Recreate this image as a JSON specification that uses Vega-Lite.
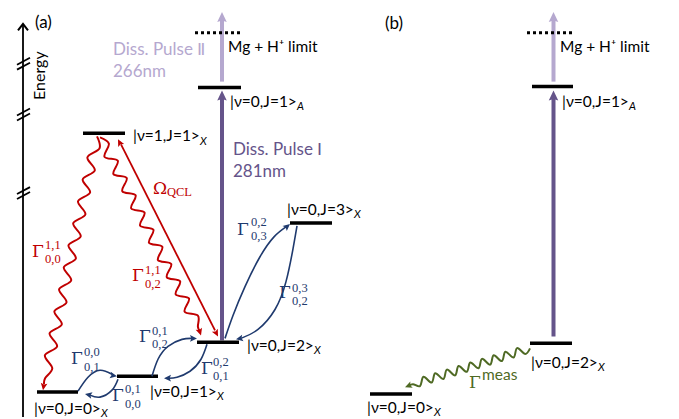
{
"$schema": "https://vega.github.io/schema/vega-lite/v6.json",
"width": 679, "height": 419,
"autosize": {"type": "fit", "contains": "padding"},
"padding": 0,
"background": "white",
"config": {"view": {"stroke": null}},
"datasets": {
"levels": [
{"x":83,"x2":125,"y":134},{"x":198,"x2":241,"y":88},{"x":290,"x2":332,"y":224},{"x":197,"x2":239,"y":344},{"x":117,"x2":158,"y":378},{"x":37,"x2":78,"y":394},
{"x":532,"x2":573,"y":87},{"x":530,"x2":572,"y":345},{"x":370,"x2":412,"y":396}
],
"dotted": [{"x":195,"x2":243,"y":33},{"x":527,"x2":575,"y":33}],
"segs": [
{"x":23,"y":419,"x2":23,"y2":25,"c":"k"},
{"x":17,"y":65,"x2":30,"y2":58,"c":"k"},{"x":17,"y":70,"x2":30,"y2":63,"c":"k"},
{"x":17,"y":116,"x2":30,"y2":109,"c":"k"},{"x":17,"y":121,"x2":30,"y2":114,"c":"k"},
{"x":17,"y":195,"x2":30,"y2":188,"c":"k"},{"x":17,"y":200,"x2":30,"y2":193,"c":"k"},
{"x":121,"y":145,"x2":215,"y2":332,"c":"r"}
],
"beams": [
{"x":222,"y":82,"y2":19,"c":"p2"},{"x":222,"y":342,"y2":98,"c":"p1"},
{"x":553.5,"y":82,"y2":19,"c":"p2"},{"x":553.5,"y":338,"y2":98,"c":"p1"}
],
"bigheads": [
{"x":222,"y":12,"a":0,"c":"p2"},{"x":222,"y":91,"a":0,"c":"p1"},
{"x":553.5,"y":12,"a":0,"c":"p2"},{"x":553.5,"y":91,"a":0,"c":"p1"}
],
"heads": [
{"x":118,"y":140,"a":333,"c":"r"},{"x":218,"y":338,"a":153,"c":"r"},
{"x":43,"y":392,"a":189,"c":"r"},{"x":201,"y":337,"a":162,"c":"r"},
{"x":117,"y":378,"a":100,"c":"b"},{"x":85,"y":396,"a":282,"c":"b"},
{"x":197,"y":340,"a":90,"c":"b"},{"x":164,"y":380,"a":270,"c":"b"},
{"x":290,"y":225,"a":50,"c":"b"},{"x":236,"y":341,"a":258,"c":"b"},
{"x":405,"y":389,"a":249,"c":"g"}
],
"axhead": [{"x":23,"y":24}],
"waves": [
{"id":"w1","i":0,"x":97,"y":137,"c":"r"},{"id":"w1","i":1,"x":99.5,"y":149.1,"c":"r"},{"id":"w1","i":2,"x":87.4,"y":158.1,"c":"r"},{"id":"w1","i":3,"x":94.8,"y":171.2,"c":"r"},{"id":"w1","i":4,"x":82.7,"y":180.2,"c":"r"},{"id":"w1","i":5,"x":90.1,"y":193.3,"c":"r"},{"id":"w1","i":6,"x":78.0,"y":202.3,"c":"r"},{"id":"w1","i":7,"x":85.4,"y":215.4,"c":"r"},{"id":"w1","i":8,"x":73.2,"y":224.4,"c":"r"},{"id":"w1","i":9,"x":80.7,"y":237.5,"c":"r"},{"id":"w1","i":10,"x":68.5,"y":246.5,"c":"r"},{"id":"w1","i":11,"x":75.9,"y":259.6,"c":"r"},{"id":"w1","i":12,"x":63.8,"y":268.6,"c":"r"},{"id":"w1","i":13,"x":71.2,"y":281.7,"c":"r"},{"id":"w1","i":14,"x":59.1,"y":290.7,"c":"r"},{"id":"w1","i":15,"x":66.5,"y":303.8,"c":"r"},{"id":"w1","i":16,"x":54.4,"y":312.8,"c":"r"},{"id":"w1","i":17,"x":61.8,"y":325.9,"c":"r"},{"id":"w1","i":18,"x":49.6,"y":334.9,"c":"r"},{"id":"w1","i":19,"x":57.1,"y":348.0,"c":"r"},{"id":"w1","i":20,"x":44.9,"y":357.0,"c":"r"},{"id":"w1","i":21,"x":52.3,"y":370.1,"c":"r"},{"id":"w1","i":22,"x":45.1,"y":380.1,"c":"r"},{"id":"w1","i":23,"x":44,"y":386,"c":"r"},
{"id":"w2","i":0,"x":100,"y":138,"c":"r"},{"id":"w2","i":1,"x":108.9,"y":144.4,"c":"r"},{"id":"w2","i":2,"x":104.5,"y":157.6,"c":"r"},{"id":"w2","i":3,"x":117.8,"y":161.6,"c":"r"},{"id":"w2","i":4,"x":113.4,"y":174.9,"c":"r"},{"id":"w2","i":5,"x":126.7,"y":178.9,"c":"r"},{"id":"w2","i":6,"x":122.3,"y":192.1,"c":"r"},{"id":"w2","i":7,"x":135.6,"y":196.2,"c":"r"},{"id":"w2","i":8,"x":131.2,"y":209.4,"c":"r"},{"id":"w2","i":9,"x":144.5,"y":213.5,"c":"r"},{"id":"w2","i":10,"x":140.1,"y":226.7,"c":"r"},{"id":"w2","i":11,"x":153.4,"y":230.8,"c":"r"},{"id":"w2","i":12,"x":149.0,"y":244.0,"c":"r"},{"id":"w2","i":13,"x":162.3,"y":248.0,"c":"r"},{"id":"w2","i":14,"x":157.9,"y":261.3,"c":"r"},{"id":"w2","i":15,"x":171.2,"y":265.3,"c":"r"},{"id":"w2","i":16,"x":166.8,"y":278.5,"c":"r"},{"id":"w2","i":17,"x":180.1,"y":282.6,"c":"r"},{"id":"w2","i":18,"x":175.7,"y":295.8,"c":"r"},{"id":"w2","i":19,"x":189.0,"y":299.9,"c":"r"},{"id":"w2","i":20,"x":184.6,"y":313.1,"c":"r"},{"id":"w2","i":21,"x":197.9,"y":317.2,"c":"r"},{"id":"w2","i":22,"x":197.9,"y":328.1,"c":"r"},{"id":"w2","i":23,"x":199.5,"y":332,"c":"r"},
{"id":"w3","i":0,"x":530,"y":350,"c":"g"},{"id":"w3","i":1,"x":525.3,"y":355.6,"c":"g"},{"id":"w3","i":2,"x":517.1,"y":349.8,"c":"g"},{"id":"w3","i":3,"x":513.6,"y":359.2,"c":"g"},{"id":"w3","i":4,"x":505.4,"y":353.4,"c":"g"},{"id":"w3","i":5,"x":501.9,"y":362.8,"c":"g"},{"id":"w3","i":6,"x":493.7,"y":357.0,"c":"g"},{"id":"w3","i":7,"x":490.2,"y":366.4,"c":"g"},{"id":"w3","i":8,"x":482.0,"y":360.6,"c":"g"},{"id":"w3","i":9,"x":478.5,"y":370.0,"c":"g"},{"id":"w3","i":10,"x":470.3,"y":364.2,"c":"g"},{"id":"w3","i":11,"x":466.8,"y":373.6,"c":"g"},{"id":"w3","i":12,"x":458.6,"y":367.8,"c":"g"},{"id":"w3","i":13,"x":455.1,"y":377.2,"c":"g"},{"id":"w3","i":14,"x":446.9,"y":371.4,"c":"g"},{"id":"w3","i":15,"x":443.4,"y":380.8,"c":"g"},{"id":"w3","i":16,"x":435.2,"y":375.0,"c":"g"},{"id":"w3","i":17,"x":431.7,"y":384.4,"c":"g"},{"id":"w3","i":18,"x":423.5,"y":378.6,"c":"g"},{"id":"w3","i":19,"x":420.0,"y":388.0,"c":"g"},{"id":"w3","i":20,"x":413,"y":386,"c":"g"},{"id":"w3","i":21,"x":409,"y":387.5,"c":"g"}
],
"arcs": [
{"id":"a1","i":0,"x":78,"y":393},{"id":"a1","i":1,"x":88,"y":379},{"id":"a1","i":2,"x":100,"y":372},{"id":"a1","i":3,"x":112,"y":376},
{"id":"a2","i":0,"x":118,"y":381},{"id":"a2","i":1,"x":112,"y":392},{"id":"a2","i":2,"x":100,"y":399},{"id":"a2","i":3,"x":90,"y":397},
{"id":"a3","i":0,"x":152,"y":378},{"id":"a3","i":1,"x":158,"y":361},{"id":"a3","i":2,"x":168,"y":348},{"id":"a3","i":3,"x":182,"y":341},{"id":"a3","i":4,"x":192,"y":340},
{"id":"a4","i":0,"x":207,"y":346},{"id":"a4","i":1,"x":201,"y":361},{"id":"a4","i":2,"x":190,"y":373},{"id":"a4","i":3,"x":177,"y":379},{"id":"a4","i":4,"x":169,"y":380},
{"id":"a5","i":0,"x":225,"y":340},{"id":"a5","i":1,"x":233,"y":317},{"id":"a5","i":2,"x":245,"y":288},{"id":"a5","i":3,"x":260,"y":258},{"id":"a5","i":4,"x":274,"y":238},{"id":"a5","i":5,"x":286,"y":228},
{"id":"a6","i":0,"x":297,"y":227},{"id":"a6","i":1,"x":293,"y":250},{"id":"a6","i":2,"x":286,"y":283},{"id":"a6","i":3,"x":275,"y":311},{"id":"a6","i":4,"x":258,"y":331},{"id":"a6","i":5,"x":241,"y":340}
],
"sans": [
{"t":"|ν=1,J=1>","x":133,"y":137,"c":"k"},
{"t":"|ν=0,J=1>","x":230,"y":102,"c":"k"},
{"t":"|ν=0,J=1>","x":562,"y":102,"c":"k"},
{"t":"|ν=0,J=3>","x":287,"y":211,"c":"k"},
{"t":"|ν=0,J=2>","x":247,"y":348,"c":"k"},
{"t":"|ν=0,J=1>","x":150,"y":394,"c":"k"},
{"t":"|ν=0,J=0>","x":34,"y":411,"c":"k"},
{"t":"|ν=0,J=2>","x":531,"y":365,"c":"k"},
{"t":"|ν=0,J=0>","x":367,"y":410,"c":"k"},
{"t":"Mg + H⁺ limit","x":228,"y":47,"c":"k"},
{"t":"Mg + H⁺ limit","x":560,"y":47,"c":"k"},
{"t":"meas","x":482,"y":377,"c":"g"}
],
"subs": [
{"t":"X","x":200,"y":143},{"t":"A","x":297,"y":108},{"t":"A","x":629,"y":108},
{"t":"X","x":354,"y":216},{"t":"X","x":314,"y":353},{"t":"X","x":217,"y":399},
{"t":"X","x":101,"y":416},{"t":"X","x":598,"y":370},{"t":"X","x":434,"y":415}
],
"big": [
{"t":"Diss. Pulse Ⅱ","x":113,"y":50,"c":"p2"},{"t":"266nm","x":113,"y":72,"c":"p2"},
{"t":"Diss. Pulse Ⅰ","x":233,"y":151,"c":"p1"},{"t":"281nm","x":233,"y":173,"c":"p1"},
{"t":"(a)","x":35,"y":23,"c":"k"},{"t":"(b)","x":385,"y":24,"c":"k"}
],
"greek": [
{"t":"Γ","x":71,"y":361,"c":"b"},{"t":"Γ","x":112,"y":398,"c":"b"},{"t":"Γ","x":139,"y":339,"c":"b"},
{"t":"Γ","x":201,"y":371,"c":"b"},{"t":"Γ","x":237,"y":231,"c":"b"},{"t":"Γ","x":279,"y":294,"c":"b"},
{"t":"Γ","x":32,"y":253,"c":"r"},{"t":"Γ","x":132,"y":277,"c":"r"},{"t":"Ω","x":153,"y":190,"c":"r"},
{"t":"Γ","x":469,"y":385,"c":"g"}
],
"idx": [
{"t":"0,0","x":84,"y":354,"c":"b"},{"t":"0,1","x":84,"y":369,"c":"b"},
{"t":"0,1","x":125,"y":391,"c":"b"},{"t":"0,0","x":125,"y":406,"c":"b"},
{"t":"0,1","x":152,"y":333,"c":"b"},{"t":"0,2","x":152,"y":346,"c":"b"},
{"t":"0,2","x":213,"y":364,"c":"b"},{"t":"0,1","x":213,"y":378,"c":"b"},
{"t":"0,2","x":251,"y":223,"c":"b"},{"t":"0,3","x":251,"y":237,"c":"b"},
{"t":"0,3","x":292,"y":289,"c":"b"},{"t":"0,2","x":292,"y":302,"c":"b"},
{"t":"1,1","x":45,"y":246,"c":"r"},{"t":"0,0","x":45,"y":260,"c":"r"},
{"t":"1,1","x":145,"y":271,"c":"r"},{"t":"0,2","x":145,"y":285,"c":"r"},
{"t":"QCL","x":167,"y":193,"c":"r"}
],
"energy": [{"t":"Energy","x":40,"y":76}]
},
"encoding": {
"x": {"field":"x","type":"quantitative","scale":{"domain":[0,679],"nice":false,"zero":false},"axis":null},
"y": {"field":"y","type":"quantitative","scale":{"domain":[0,419],"nice":false,"zero":false,"reverse":true},"axis":null}
},
"layer": [
{"data":{"name":"segs"},"mark":{"type":"rule","strokeWidth":1.8},
 "encoding":{"x2":{"field":"x2"},"y2":{"field":"y2"},
  "color":{"field":"c","type":"nominal","scale":{"domain":["k","p1","p2","r","b","g"],"range":["#000000","#65548a","#b5a8cf","#c00000","#1f3a6e","#4f6a24"]},"legend":null}}},
{"data":{"name":"axhead"},"mark":{"type":"point","shape":"M-1,1.3L0,0L1,1.3","filled":false,"stroke":"black","strokeWidth":2,"size":100,"opacity":1}},
{"data":{"name":"beams"},"mark":{"type":"rule","strokeWidth":4},
 "encoding":{"y2":{"field":"y2"},
  "color":{"field":"c","type":"nominal","scale":{"domain":["k","p1","p2","r","b","g"],"range":["#000000","#65548a","#b5a8cf","#c00000","#1f3a6e","#4f6a24"]},"legend":null}}},
{"data":{"name":"levels"},"mark":{"type":"rule","strokeWidth":3.5,"color":"black"},
 "encoding":{"x2":{"field":"x2"}}},
{"data":{"name":"dotted"},"mark":{"type":"rule","strokeWidth":3,"color":"black","strokeDash":[3,3]},
 "encoding":{"x2":{"field":"x2"}}},
{"data":{"name":"waves"},"mark":{"type":"line","strokeWidth":2,"interpolate":"cardinal"},
 "encoding":{"detail":{"field":"id"},"order":{"field":"i","type":"quantitative"},
  "color":{"field":"c","type":"nominal","scale":{"domain":["k","p1","p2","r","b","g"],"range":["#000000","#65548a","#b5a8cf","#c00000","#1f3a6e","#4f6a24"]},"legend":null}}},
{"data":{"name":"arcs"},"mark":{"type":"line","strokeWidth":1.6,"interpolate":"natural","color":"#1f3a6e"},
 "encoding":{"detail":{"field":"id"},"order":{"field":"i","type":"quantitative"}}},
{"data":{"name":"bigheads"},"mark":{"type":"point","shape":"M0,0L-0.95,2L0,1.7L0.95,2Z","filled":true,"size":100,"opacity":1},
 "encoding":{"angle":{"field":"a","type":"quantitative","scale":null},
  "color":{"field":"c","type":"nominal","scale":{"domain":["k","p1","p2","r","b","g"],"range":["#000000","#65548a","#b5a8cf","#c00000","#1f3a6e","#4f6a24"]},"legend":null}}},
{"data":{"name":"heads"},"mark":{"type":"point","shape":"M0,0L-0.95,2L0,1.6L0.95,2Z","filled":true,"size":49,"opacity":1},
 "encoding":{"angle":{"field":"a","type":"quantitative","scale":null},
  "color":{"field":"c","type":"nominal","scale":{"domain":["k","p1","p2","r","b","g"],"range":["#000000","#65548a","#b5a8cf","#c00000","#1f3a6e","#4f6a24"]},"legend":null}}},
{"data":{"name":"sans"},"mark":{"type":"text","align":"left","baseline":"middle","font":"Lato","fontSize":15.5},
 "encoding":{"text":{"field":"t"},
  "color":{"field":"c","type":"nominal","scale":{"domain":["k","p1","p2","r","b","g"],"range":["#000000","#65548a","#b5a8cf","#c00000","#1f3a6e","#4f6a24"]},"legend":null}}},
{"data":{"name":"subs"},"mark":{"type":"text","align":"left","baseline":"middle","font":"Lato","fontSize":11,"fontStyle":"italic","color":"black"},
 "encoding":{"text":{"field":"t"}}},
{"data":{"name":"big"},"mark":{"type":"text","align":"left","baseline":"middle","font":"Lato","fontSize":17},
 "encoding":{"text":{"field":"t"},
  "color":{"field":"c","type":"nominal","scale":{"domain":["k","p1","p2","r","b","g"],"range":["#000000","#65548a","#b5a8cf","#c00000","#1f3a6e","#4f6a24"]},"legend":null}}},
{"data":{"name":"greek"},"mark":{"type":"text","align":"left","baseline":"middle","font":"DejaVu Serif","fontSize":17},
 "encoding":{"text":{"field":"t"},
  "color":{"field":"c","type":"nominal","scale":{"domain":["k","p1","p2","r","b","g"],"range":["#000000","#65548a","#b5a8cf","#c00000","#1f3a6e","#4f6a24"]},"legend":null}}},
{"data":{"name":"idx"},"mark":{"type":"text","align":"left","baseline":"middle","font":"Liberation Serif","fontSize":12.5},
 "encoding":{"text":{"field":"t"},
  "color":{"field":"c","type":"nominal","scale":{"domain":["k","p1","p2","r","b","g"],"range":["#000000","#65548a","#b5a8cf","#c00000","#1f3a6e","#4f6a24"]},"legend":null}}},
{"data":{"name":"energy"},"mark":{"type":"text","align":"center","baseline":"middle","font":"Lato","fontSize":16,"angle":270,"color":"black"},
 "encoding":{"text":{"field":"t"}}}
]
}
